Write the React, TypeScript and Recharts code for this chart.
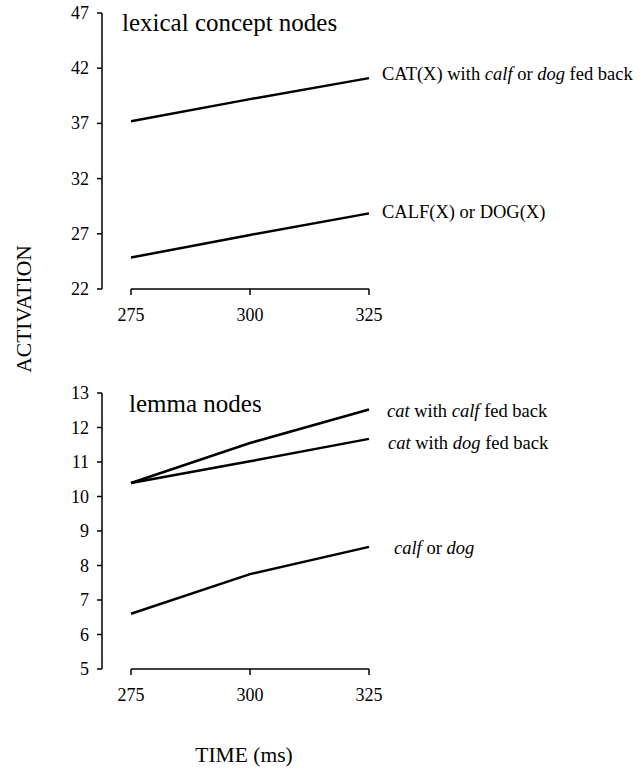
import React from "react";
import { LineChart, Line, XAxis, YAxis, ReferenceLine } from "recharts";

const times = [275, 300, 325];

// lexical concept nodes
const catX = [37.2, 39.2, 41.1];
const calfX = [24.85, 26.9, 28.85];

// lemma nodes
const catCalf = [10.39, 11.55, 12.52];
const catDog = [10.39, 11.02, 11.67];
const calfDog = [6.6, 7.75, 8.54];

const topTicks = [22, 27, 32, 37, 42, 47];
const bottomTicks = [5, 6, 7, 8, 9, 10, 11, 12, 13];

const FONT = "'Liberation Serif', 'Times New Roman', serif";

type Seg = { t: string; i?: boolean };

const topData = times.map((t, k) => ({ t, catX: catX[k], calfX: calfX[k] }));
const bottomData = times.map((t, k) => ({
  t,
  catCalf: catCalf[k],
  catDog: catDog[k],
  calfDog: calfDog[k],
}));

function endLabel(segs: Seg[], dx: number, dy: number) {
  return (props: any) => {
    const { x, y, index } = props;
    if (index !== times.length - 1) return null;
    return (
      <text x={x + dx} y={y + dy} fontSize={18.5} fontFamily={FONT} fill="#000">
        {segs.map((s, k) => (
          <tspan key={k} fontStyle={s.i ? "italic" : "normal"}>
            {s.t}
          </tspan>
        ))}
      </text>
    );
  };
}

const XTick = (props: any) => {
  const { x, y, payload } = props;
  return (
    <text x={x} y={y + 14} textAnchor="middle" fontSize={18} fontFamily={FONT} fill="#000">
      {payload.value}
    </text>
  );
};

const YTick = (props: any) => {
  const { x, y, payload } = props;
  return (
    <text x={x} y={y + 6} textAnchor="end" fontSize={18} fontFamily={FONT} fill="#000">
      {payload.value}
    </text>
  );
};

function Panel({
  data,
  domain,
  ticks,
  lines,
}: {
  data: any[];
  domain: [number, number];
  ticks: number[];
  lines: { key: string; segs: Seg[]; dx: number; dy: number }[];
}) {
  return (
    <LineChart
      width={642}
      height={330}
      data={data}
      margin={{ top: 13, right: 273, left: 0, bottom: 0 }}
    >
      <XAxis
        dataKey="t"
        type="number"
        domain={[275, 325]}
        ticks={times}
        padding={{ left: 29, right: 0 }}
        axisLine={false}
        tickSize={6}
        tickMargin={12}
        height={41}
        tick={<XTick />}
        tickLine={{ stroke: "#000", strokeWidth: 1.5 }}
      />
      <YAxis
        type="number"
        domain={domain}
        ticks={ticks}
        width={102}
        tickSize={5}
        tickMargin={8}
        interval={0}
        tick={<YTick />}
        axisLine={{ stroke: "#000", strokeWidth: 1.5 }}
        tickLine={{ stroke: "#000", strokeWidth: 1.5 }}
      />
      <ReferenceLine
        segment={[
          { x: 275, y: domain[0] },
          { x: 325, y: domain[0] },
        ]}
        stroke="#000"
        strokeWidth={1.5}
        ifOverflow="visible"
      />
      {lines.map((l) => (
        <Line
          key={l.key}
          dataKey={l.key}
          stroke="#000"
          strokeWidth={2.5}
          dot={false}
          type="linear"
          isAnimationActive={false}
          label={endLabel(l.segs, l.dx, l.dy)}
        />
      ))}
    </LineChart>
  );
}

export default function App() {
  return (
    <div
      style={{
        position: "absolute",
        left: 0,
        top: 0,
        width: 642,
        height: 770,
        background: "#fff",
      }}
    >
      <div style={{ position: "absolute", left: 0, top: 0 }}>
        <Panel
          data={topData}
          domain={[22, 47]}
          ticks={topTicks}
          lines={[
            {
              key: "catX",
              segs: [
                { t: "CAT(X) with " },
                { t: "calf", i: true },
                { t: " or " },
                { t: "dog", i: true },
                { t: " fed back" },
              ],
              dx: 13,
              dy: 2,
            },
            { key: "calfX", segs: [{ t: "CALF(X) or DOG(X)" }], dx: 13, dy: 5 },
          ]}
        />
      </div>
      <div style={{ position: "absolute", left: 0, top: 380 }}>
        <Panel
          data={bottomData}
          domain={[5, 13]}
          ticks={bottomTicks}
          lines={[
            {
              key: "catCalf",
              segs: [
                { t: "cat", i: true },
                { t: " with " },
                { t: "calf", i: true },
                { t: " fed back" },
              ],
              dx: 18,
              dy: 7,
            },
            {
              key: "catDog",
              segs: [
                { t: "cat", i: true },
                { t: " with " },
                { t: "dog", i: true },
                { t: " fed back" },
              ],
              dx: 19,
              dy: 10,
            },
            {
              key: "calfDog",
              segs: [{ t: "calf", i: true }, { t: " or " }, { t: "dog", i: true }],
              dx: 25,
              dy: 7,
            },
          ]}
        />
      </div>
      <svg
        width={642}
        height={770}
        style={{ position: "absolute", left: 0, top: 0, pointerEvents: "none" }}
      >
        <text x={122} y={31} fontSize={25} fontFamily={FONT} fill="#000">
          lexical concept nodes
        </text>
        <text x={129} y={412} fontSize={25} fontFamily={FONT} fill="#000">
          lemma nodes
        </text>
        <text
          x={31}
          y={309}
          transform="rotate(-90 31 309)"
          textAnchor="middle"
          fontSize={21.5}
          fontFamily={FONT}
          fill="#000"
        >
          ACTIVATION
        </text>
        <text
          x={244}
          y={762}
          textAnchor="middle"
          fontSize={21.5}
          fontFamily={FONT}
          fill="#000"
        >
          TIME (ms)
        </text>
      </svg>
    </div>
  );
}
